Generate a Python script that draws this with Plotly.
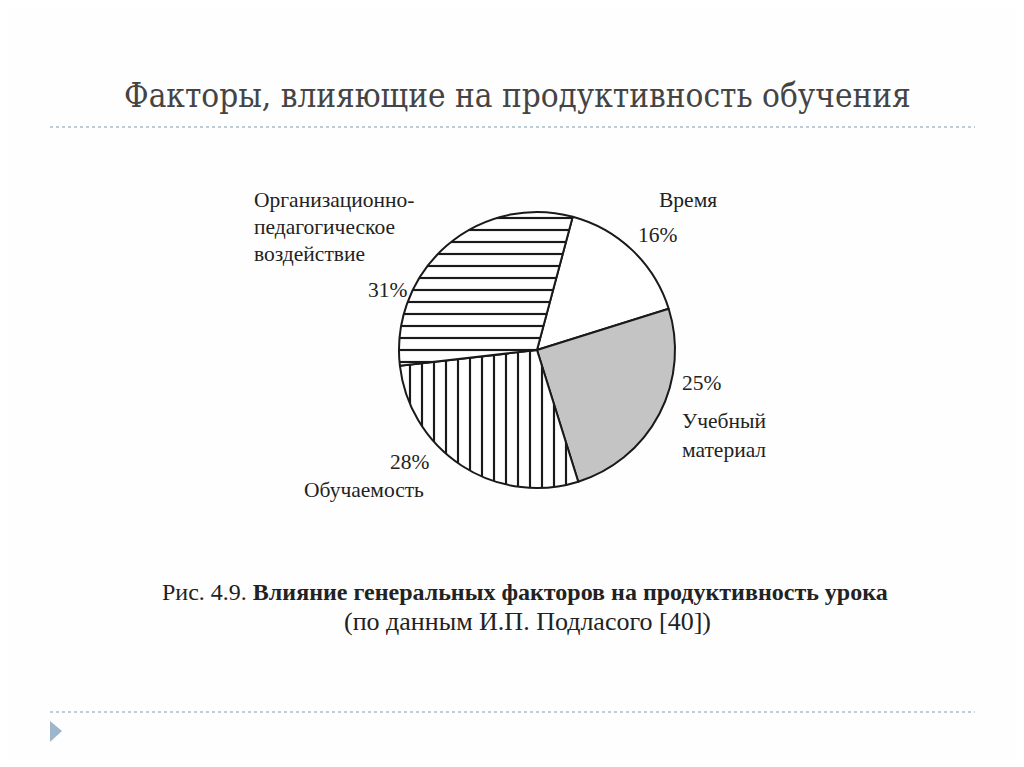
import plotly.graph_objects as go

# Data
categories = ["Время", "Учебный материал", "Обучаемость", "Организационно-педагогическое воздействие"]
values = [16, 25, 28, 31]
colors = ["white", "#c4c4c4", "white", "white"]
patterns = ["", "", "|", "-"]

title = "Факторы, влияющие на продуктивность обучения"
caption1 = "Рис. 4.9. <b>Влияние генеральных факторов на продуктивность урока</b>"
caption2 = "(по данным И.П. Подласого [40])"

# page has an 8px body margin; figure is sized to fit the viewport
OFF = 8
W, H = 1024 - OFF * 2, 767 - OFF * 2
cx, cy, r = 537, 350, 138


def px(x):
    return (x - OFF) / W


def py(y):
    return 1 - (y - OFF) / H


fig = go.Figure()
fig.add_trace(go.Pie(
    labels=categories,
    values=values,
    sort=False,
    direction="clockwise",
    rotation=15,
    textinfo="none",
    hoverinfo="label+percent",
    marker=dict(
        colors=colors,
        line=dict(color="#1a1a1a", width=2),
        pattern=dict(shape=patterns, fgcolor="#1a1a1a", bgcolor="white",
                     size=12, solidity=0.18),
    ),
    domain=dict(x=[px(cx - r), px(cx + r)], y=[py(cy + r), py(cy - r)]),
    showlegend=False,
))

lab_font = dict(family="Liberation Serif", size=21.5, color="#222222")


def ann(x, y, text, xanchor="left", font=lab_font):
    fig.add_annotation(x=px(x), y=py(y), xref="paper", yref="paper", text=text,
                       showarrow=False, xanchor=xanchor, yanchor="middle", font=font,
                       align=xanchor if xanchor != "center" else "center")


# labels
ann(252, 200, "Организационно-")
ann(252, 227, "педагогическое")
ann(252, 254, "воздействие")
ann(410, 290, f"{values[3]}%", xanchor="right")
ann(657, 200, "Время")
ann(636, 235, f"{values[0]}%")
ann(680, 383, f"{values[1]}%")
ann(680, 421, "Учебный")
ann(680, 450, "материал")
ann(432, 462, f"{values[2]}%", xanchor="right")
ann(426, 490, "Обучаемость", xanchor="right")

# title
fig.add_annotation(x=px(122), y=py(95), xref="paper", yref="paper", text=title,
                   showarrow=False, xanchor="left", yanchor="middle",
                   font=dict(family="DejaVu Serif Condensed, DejaVu Serif", size=33, color="#444444"))

# caption
fig.add_annotation(x=px(525), y=py(592), xref="paper", yref="paper", text=caption1,
                   showarrow=False, xanchor="center", yanchor="middle",
                   font=dict(family="Liberation Serif", size=24, color="#222222"))
fig.add_annotation(x=px(527), y=py(621), xref="paper", yref="paper", text=caption2,
                   showarrow=False, xanchor="center", yanchor="middle",
                   font=dict(family="Liberation Serif", size=26, color="#222222"))

# decorations
line_c = "#a8bed0"
fig.add_shape(type="line", xref="paper", yref="paper", x0=px(50), x1=px(975),
              y0=py(127), y1=py(127), line=dict(color=line_c, width=1.5, dash="dot"))
fig.add_shape(type="line", xref="paper", yref="paper", x0=px(50), x1=px(975),
              y0=py(712), y1=py(712), line=dict(color=line_c, width=1.5, dash="dot"))
fig.add_shape(type="path", xref="paper", yref="paper",
              path=f"M {px(50)} {py(721)} L {px(62)} {py(731)} L {px(50)} {py(742)} Z",
              fillcolor="#9db6cc", line=dict(width=0))

fig.update_layout(width=W, height=H, margin=dict(l=0, r=0, t=0, b=0),
                  paper_bgcolor="#fefefe", plot_bgcolor="#fefefe")

fig.write_html("out.html")
